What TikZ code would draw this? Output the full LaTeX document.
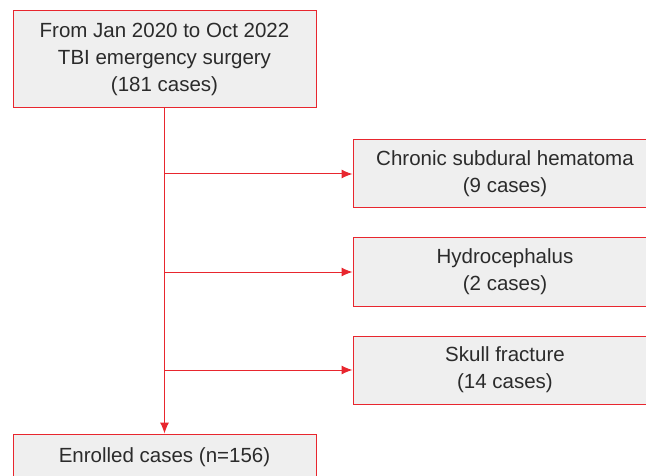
\documentclass[tikz,border=0pt]{standalone}
\usepackage{fontspec}
\setmainfont{Liberation Sans}
\usetikzlibrary{positioning,arrows.meta}
\definecolor{flowred}{HTML}{E8262E}
\definecolor{boxgray}{HTML}{EFEFEF}
\definecolor{textgray}{HTML}{2B2B2B}

\begin{document}
\begin{tikzpicture}[
        % define styles
        x=1pt, y=-1pt,
        box/.style={
            draw=flowred,
            fill=boxgray,
            line width=1pt,
            text=textgray,
            align=center,
            inner sep=0pt,
            font=\fontsize{20.5}{27}\selectfont
        },
        wide/.style={minimum width=303pt},
        excl/.style={box, minimum width=304pt, minimum height=68pt},
        flow/.style={draw=flowred, line width=1pt},
        >={Latex[length=11pt,width=9pt]}
    ]
    \useasboundingbox (0,0) rectangle (646,476);
    \clip (0,0) rectangle (646,476);

    % main column
    \node[box, wide, minimum height=97pt] (src) at (164.5,59.5)
        {From Jan 2020 to Oct 2022\\TBI emergency surgery\\(181 cases)};
    \node[box, wide, minimum height=46pt] (enrolled) at (164.5,457)
        {Enrolled cases (n=156)};

    % excluded cases
    \node[excl] (excl1) at (505,174) {Chronic subdural hematoma\\(9 cases)};
    \node[excl] (excl2) at (505,272) {Hydrocephalus\\(2 cases)};
    \node[excl] (excl3) at (505,370) {Skull fracture\\(14 cases)};

    % arrows
    \draw[flow, ->] (src) -- (enrolled);
    \foreach \i in {1,2,3}
        \draw[flow, ->] (src.south |- excl\i.west) -- (excl\i.west);

\end{tikzpicture}
\end{document}
